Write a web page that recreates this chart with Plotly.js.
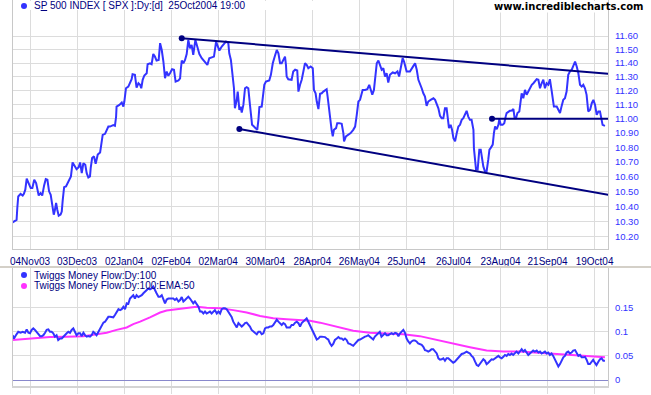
<!DOCTYPE html>
<html>
<head>
<meta charset="utf-8">
<script src="https://cdn.plot.ly/plotly-3.0.1.min.js"></script>
<style>html,body{margin:0;padding:0;background:#fff;}#chart{width:651px;height:395px;}</style>
</head>
<body>
<div id="chart"></div>
<script>
// ---- data (x = trading days counted from 04Nov03) ----
const tickDays = [0, 20, 40, 60, 80, 100, 120, 140, 160, 180, 200, 220, 240];
const tickLabels = ['04Nov03','03Dec03','02Jan04','02Feb04','02Mar04','30Mar04','28Apr04','26May04','25Jun04','26Jul04','23Aug04','21Sep04','19Oct04'];
const priceTicks = [10.2,10.3,10.4,10.5,10.6,10.7,10.8,10.9,11.0,11.1,11.2,11.3,11.4,11.5,11.6];
const flowTicks = [0, 0.05, 0.1, 0.15];

const spxPoints = [
[-7.4,10.294],[-5.7,10.311],[-5.4,10.389],[-5.0,10.466],[-4.0,10.484],[-3.1,10.473],[-2.6,10.484],[-2.0,10.512],[-1.4,10.586],[-0.6,10.557],
[0.3,10.523],[1.0,10.523],[1.8,10.579],[2.6,10.557],[3.3,10.512],[3.7,10.473],[4.5,10.489],[5.2,10.473],[6.0,10.541],[6.7,10.583],
[7.4,10.579],[8.1,10.501],[8.8,10.478],[9.2,10.445],[9.6,10.401],[10.1,10.345],[10.6,10.378],[11.1,10.423],[11.6,10.378],[12.2,10.338],
[13.0,10.345],[13.5,10.366],[13.9,10.440],[14.5,10.529],[15.3,10.534],[16.0,10.557],[16.7,10.586],[17.4,10.602],[18.1,10.697],[19.0,10.670],
[19.8,10.651],[20.7,10.665],[21.3,10.697],[22.0,10.624],[22.7,10.692],[23.5,10.681],[24.1,10.624],[24.8,10.595],[25.5,10.602],[25.8,10.658],
[26.4,10.727],[27.2,10.739],[27.9,10.688],[28.3,10.716],[28.8,10.751],[29.8,10.766],[30.5,10.831],[30.9,10.888],[31.9,10.895],[32.6,10.923],
[33.3,10.946],[34.0,10.946],[35.4,10.956],[36.1,10.951],[36.6,11.016],[36.8,11.087],[38.0,11.099],[39.0,11.116],[39.7,11.087],[40.1,11.123],
[40.8,11.218],[41.8,11.230],[42.5,11.254],[43.2,11.283],[43.6,11.319],[44.6,11.315],[45.3,11.223],[46.1,11.254],[46.8,11.243],[47.3,11.218],
[47.9,11.279],[48.6,11.310],[49.6,11.326],[50.0,11.392],[51.0,11.399],[51.7,11.392],[52.4,11.467],[53.1,11.448],[53.8,11.419],[54.7,11.423],
[55.3,11.547],[56.0,11.496],[56.7,11.412],[57.4,11.290],[58.1,11.339],[58.8,11.308],[59.5,11.326],[60.4,11.356],[61.2,11.352],[61.9,11.266],
[63.1,11.274],[63.8,11.290],[64.1,11.352],[64.5,11.419],[65.2,11.399],[65.9,11.423],[66.6,11.467],[67.3,11.571],[68.0,11.509],[68.7,11.534],
[69.4,11.460],[70.3,11.571],[71.1,11.522],[72.0,11.467],[73.0,11.436],[74.4,11.405],[75.4,11.387],[76.2,11.436],[77.2,11.443],[78.2,11.448],
[78.6,11.496],[79.1,11.559],[79.6,11.534],[80.5,11.492],[81.5,11.522],[82.5,11.542],[83.3,11.559],[84.3,11.547],[84.7,11.472],[85.4,11.423],
[86.2,11.303],[86.7,11.218],[87.1,11.075],[87.9,11.135],[88.3,11.194],[89.0,11.064],[89.6,11.087],[90.0,11.045],[90.7,11.099],[91.4,11.218],
[92.1,11.225],[92.8,11.218],[93.5,11.099],[93.9,11.028],[94.4,10.958],[95.2,10.946],[96.1,10.935],[96.6,10.923],[97.1,10.993],[97.5,11.083],
[98.5,11.087],[99.2,11.171],[99.6,11.243],[100.3,11.266],[101.7,11.274],[102.4,11.315],[103.2,11.399],[104.1,11.452],[104.9,11.496],[105.6,11.472],
[106.3,11.399],[107.0,11.399],[107.7,11.423],[108.4,11.448],[108.8,11.387],[109.1,11.303],[109.8,11.283],[111.2,11.279],[111.9,11.339],[112.7,11.352],
[113.6,11.346],[114.1,11.194],[114.8,11.243],[115.5,11.279],[116.2,11.339],[116.9,11.399],[117.6,11.387],[118.3,11.363],[119.3,11.376],[120.2,11.363],
[120.7,11.206],[121.4,11.182],[121.9,11.123],[122.6,11.069],[123.3,11.178],[124.0,11.182],[124.7,11.194],[126.1,11.211],[126.5,11.159],[127.1,11.064],
[127.5,10.993],[128.2,10.923],[128.7,10.877],[129.2,10.923],[130.1,10.935],[130.6,10.970],[131.5,10.970],[132.5,10.965],[133.2,10.900],[133.5,10.843],
[134.3,10.877],[135.3,10.888],[136.3,10.900],[137.4,10.923],[138.2,10.946],[138.9,11.028],[139.6,11.123],[140.3,11.135],[141.4,11.206],[142.4,11.206],
[143.4,11.211],[144.2,11.243],[145.0,11.206],[145.5,11.171],[146.2,11.206],[146.8,11.290],[147.4,11.399],[148.1,11.419],[148.8,11.376],[149.5,11.352],
[150.2,11.363],[150.9,11.303],[151.6,11.326],[152.3,11.259],[153.0,11.315],[154.2,11.332],[155.2,11.326],[156.2,11.339],[156.9,11.303],[157.6,11.363],
[158.4,11.436],[159.0,11.412],[160.1,11.339],[161.5,11.339],[162.2,11.363],[163.0,11.380],[163.7,11.399],[164.4,11.352],[165.1,11.279],[165.8,11.254],
[166.5,11.218],[167.2,11.182],[167.9,11.159],[168.6,11.092],[169.3,11.123],[170.3,11.135],[171.5,11.146],[172.2,11.135],[172.9,11.111],[173.6,11.075],
[174.3,11.021],[175.0,11.005],[175.7,11.005],[176.4,11.075],[177.1,11.075],[177.5,11.005],[178.1,10.935],[178.8,10.958],[179.4,10.923],[180.0,10.865],
[180.7,10.843],[181.4,10.900],[182.1,10.946],[182.8,10.958],[183.5,10.993],[184.2,11.005],[184.9,11.028],[185.6,11.057],[186.3,11.016],[187.0,10.993],
[187.7,10.993],[188.5,10.923],[188.7,10.796],[189.2,10.727],[189.6,10.648],[190.3,10.648],[190.7,10.727],[191.0,10.785],[191.6,10.785],[192.0,10.739],
[192.7,10.670],[193.4,10.636],[194.1,10.636],[194.8,10.716],[195.3,10.785],[195.8,10.796],[196.7,10.820],[197.2,10.900],[197.7,10.946],[198.4,10.928],
[199.1,10.958],[199.5,10.998],[200.1,10.958],[200.9,10.958],[201.6,10.970],[202.2,11.016],[202.6,11.041],[204.0,11.057],[204.8,11.059],[205.5,11.069],
[206.0,11.005],[206.6,11.005],[207.2,11.041],[208.0,11.052],[208.3,11.099],[209.0,11.182],[209.7,11.146],[210.4,11.206],[211.1,11.171],[211.8,11.194],
[212.5,11.206],[213.3,11.243],[214.0,11.254],[214.7,11.266],[215.4,11.283],[216.1,11.279],[216.8,11.218],[217.5,11.254],[218.2,11.279],[218.9,11.218],
[219.6,11.254],[220.3,11.243],[221.0,11.283],[221.8,11.194],[222.2,11.123],[222.7,11.087],[223.9,11.087],[224.6,11.064],[225.3,11.041],[226.0,11.092],
[226.7,11.135],[227.4,11.146],[228.1,11.194],[228.8,11.315],[229.5,11.339],[230.3,11.352],[231.0,11.376],[231.7,11.412],[232.4,11.376],[233.1,11.326],
[233.8,11.243],[234.5,11.230],[235.2,11.243],[235.9,11.218],[236.6,11.171],[237.3,11.052],[238.1,11.064],[238.8,11.111],[239.5,11.135],[240.2,11.099],
[240.9,11.028],[241.6,11.052],[242.3,11.052],[243.0,11.005],[243.4,10.958],[244.4,10.951]
];

// trend lines drawn on the price chart: [day, level]
const upperTrend = [[64.5,11.584],[246.8,11.321]];
const lowerTrend = [[89.0,10.929],[245.9,10.477]];
const supportLine = [[196.4,11.00],[246.8,11.00]];

const tmfPoints = [
[-7.4,0.093],[-6.8,0.086],[-6.0,0.093],[-5.0,0.100],[-4.0,0.098],[-3.1,0.100],[-2.1,0.098],[-1.4,0.105],[-0.7,0.098],[0.0,0.097],
[0.7,0.104],[1.4,0.107],[2.1,0.104],[2.8,0.100],[3.5,0.097],[4.3,0.091],[5.0,0.091],[5.7,0.093],[6.4,0.098],[7.1,0.104],
[7.8,0.105],[8.5,0.100],[9.2,0.100],[9.9,0.097],[10.6,0.090],[11.3,0.093],[12.0,0.083],[12.8,0.086],[13.5,0.086],[14.2,0.090],
[14.9,0.095],[15.6,0.097],[16.3,0.100],[17.0,0.098],[17.7,0.104],[18.4,0.107],[19.1,0.100],[19.8,0.093],[20.6,0.097],[21.3,0.097],
[22.0,0.091],[22.7,0.098],[23.4,0.093],[24.1,0.090],[24.8,0.091],[25.5,0.090],[26.2,0.093],[26.9,0.100],[27.6,0.097],[28.3,0.093],
[29.1,0.100],[29.8,0.107],[30.5,0.114],[31.2,0.119],[31.9,0.121],[32.6,0.125],[33.3,0.131],[34.0,0.131],[34.7,0.131],[35.4,0.130],
[36.1,0.135],[36.8,0.140],[37.6,0.147],[38.3,0.145],[39.0,0.147],[39.7,0.152],[40.4,0.147],[41.1,0.159],[41.8,0.158],[42.5,0.169],
[43.2,0.173],[43.9,0.176],[44.6,0.169],[45.3,0.176],[46.1,0.172],[46.8,0.174],[47.5,0.176],[48.2,0.180],[48.9,0.183],[49.6,0.185],
[50.3,0.190],[51.0,0.188],[51.7,0.190],[52.4,0.194],[53.1,0.185],[53.8,0.180],[54.6,0.173],[55.3,0.173],[56.0,0.176],[56.7,0.166],
[57.4,0.159],[58.1,0.167],[58.8,0.169],[59.5,0.169],[60.9,0.169],[61.6,0.166],[62.3,0.169],[63.1,0.163],[63.8,0.166],[64.5,0.172],
[65.2,0.163],[65.9,0.166],[66.6,0.169],[67.3,0.173],[68.0,0.169],[68.7,0.163],[69.4,0.159],[70.1,0.163],[70.9,0.156],[71.6,0.152],
[72.3,0.142],[73.0,0.142],[73.7,0.138],[74.4,0.142],[75.1,0.138],[75.8,0.140],[76.5,0.142],[77.2,0.138],[77.9,0.142],[78.6,0.145],
[79.4,0.138],[80.1,0.142],[80.8,0.138],[81.5,0.147],[82.2,0.149],[82.9,0.149],[83.6,0.147],[84.3,0.142],[85.0,0.135],[85.7,0.131],
[86.4,0.121],[87.1,0.114],[87.9,0.109],[88.6,0.118],[89.3,0.114],[90.0,0.111],[90.7,0.114],[91.4,0.118],[92.1,0.119],[92.8,0.116],
[93.5,0.111],[94.2,0.104],[94.9,0.100],[95.6,0.098],[96.4,0.095],[97.1,0.100],[97.8,0.100],[98.5,0.095],[99.2,0.097],[99.9,0.107],
[100.6,0.109],[101.3,0.109],[102.0,0.111],[102.7,0.111],[103.4,0.114],[104.1,0.119],[104.9,0.125],[105.6,0.121],[106.3,0.118],[107.0,0.114],
[107.7,0.118],[108.4,0.116],[109.1,0.109],[109.8,0.109],[110.5,0.109],[111.2,0.114],[111.9,0.114],[112.7,0.119],[113.4,0.121],[114.1,0.118],
[114.8,0.111],[115.5,0.118],[116.2,0.121],[116.9,0.126],[117.6,0.128],[118.3,0.121],[119.0,0.114],[119.7,0.105],[120.4,0.100],[121.2,0.090],
[121.9,0.084],[122.6,0.086],[123.3,0.090],[124.0,0.090],[124.7,0.089],[125.4,0.089],[126.1,0.086],[126.8,0.084],[127.5,0.076],[128.2,0.071],
[128.9,0.075],[129.6,0.083],[130.4,0.086],[131.1,0.089],[131.8,0.086],[132.5,0.086],[133.2,0.083],[133.9,0.086],[134.6,0.083],[135.3,0.076],
[136.0,0.075],[136.7,0.073],[137.4,0.071],[138.1,0.075],[138.8,0.080],[139.6,0.083],[140.3,0.084],[141.0,0.086],[141.7,0.089],[142.4,0.090],
[143.1,0.091],[143.8,0.093],[144.5,0.090],[145.2,0.086],[145.9,0.084],[146.6,0.090],[147.3,0.093],[148.0,0.097],[148.7,0.100],[149.4,0.090],
[150.2,0.093],[150.9,0.097],[151.6,0.093],[152.3,0.093],[153.0,0.095],[153.7,0.097],[154.4,0.095],[155.2,0.098],[155.9,0.097],[156.6,0.091],
[157.3,0.097],[158.0,0.100],[158.7,0.104],[159.4,0.098],[160.1,0.086],[160.8,0.080],[161.5,0.076],[162.2,0.080],[162.9,0.082],[163.6,0.082],
[164.3,0.080],[165.0,0.076],[165.7,0.075],[166.5,0.073],[167.2,0.069],[167.9,0.062],[168.6,0.061],[169.3,0.059],[170.0,0.061],[170.7,0.064],
[171.4,0.064],[172.1,0.059],[172.9,0.055],[173.6,0.045],[174.3,0.042],[175.0,0.043],[175.7,0.045],[176.4,0.040],[177.1,0.045],[177.8,0.045],
[178.5,0.042],[179.2,0.038],[179.9,0.036],[180.6,0.038],[181.4,0.043],[182.1,0.047],[182.8,0.050],[183.5,0.054],[184.2,0.055],[184.9,0.057],
[185.6,0.059],[186.3,0.057],[187.0,0.055],[187.7,0.050],[188.4,0.047],[189.2,0.038],[189.9,0.031],[190.6,0.029],[191.3,0.033],[192.0,0.038],
[192.7,0.043],[193.4,0.040],[194.1,0.033],[194.8,0.036],[195.5,0.040],[196.2,0.043],[196.9,0.042],[197.6,0.045],[198.3,0.047],[199.1,0.050],
[199.8,0.047],[200.5,0.045],[201.2,0.048],[201.9,0.052],[202.6,0.050],[203.3,0.054],[204.0,0.052],[204.7,0.055],[205.4,0.052],[206.1,0.055],
[206.8,0.059],[207.6,0.055],[208.3,0.059],[209.0,0.064],[209.7,0.059],[210.4,0.062],[211.1,0.057],[211.8,0.052],[212.5,0.055],[213.2,0.059],
[213.9,0.061],[214.6,0.059],[215.4,0.061],[216.1,0.057],[216.8,0.059],[217.5,0.055],[218.2,0.057],[218.9,0.059],[219.6,0.055],[220.3,0.057],
[221.0,0.052],[221.7,0.055],[222.4,0.050],[223.2,0.042],[223.9,0.035],[224.6,0.028],[225.3,0.033],[226.0,0.042],[226.7,0.047],[227.4,0.050],
[228.1,0.057],[228.8,0.059],[229.5,0.055],[230.2,0.057],[230.9,0.061],[231.7,0.062],[232.4,0.055],[233.1,0.050],[233.8,0.052],[234.5,0.047],
[235.2,0.047],[235.9,0.048],[236.6,0.042],[237.3,0.033],[238.0,0.033],[238.7,0.038],[239.4,0.042],[240.1,0.036],[240.8,0.031],[241.6,0.038],
[242.3,0.043],[243.0,0.045],[243.7,0.040],[244.4,0.040]
];

const emaPoints = [
[-7.4,0.083],[0.0,0.086],[8.5,0.089],[15.6,0.090],[22.7,0.091],[28.3,0.095],[32.6,0.098],[36.8,0.104],[41.1,0.109],[43.9,0.116],
[46.8,0.121],[51.0,0.130],[55.3,0.140],[58.1,0.144],[62.3,0.147],[66.6,0.150],[70.8,0.152],[75.1,0.150],[80.8,0.149],[86.4,0.145],
[92.1,0.140],[97.8,0.133],[103.4,0.128],[109.1,0.126],[114.8,0.125],[119.0,0.123],[123.3,0.119],[127.5,0.114],[130.4,0.111],[137.4,0.102],
[144.5,0.098],[151.6,0.097],[158.7,0.095],[165.7,0.091],[172.9,0.083],[179.9,0.075],[187.0,0.068],[194.1,0.061],[201.2,0.059],[208.3,0.059],
[215.4,0.057],[222.4,0.054],[229.5,0.052],[236.6,0.050],[244.4,0.047]
];

// ---- drawing ----
const W = 651, H = 395;
const px = x => x / W;
const py = y => 1 - y / H;
const xs = a => a.map(p => p[0]);
const ys = a => a.map(p => p[1]);

const BLUE = '#3333ff', NAVY = '#000080', MAGENTA = '#ff33ff', GRID = '#dcdcdc';
const FONT = 'Liberation Sans, Arial, sans-serif';
const xRange = [-7.44, 245.7];

function trend(points) {
  return {x: xs(points), y: ys(points), xaxis: 'x', yaxis: 'y', type: 'scatter', mode: 'lines+markers',
    line: {color: NAVY, width: 2}, marker: {color: NAVY, size: 6}, cliponaxis: false, hoverinfo: 'skip'};
}

const traces = [
  {x: xs(spxPoints), y: ys(spxPoints), xaxis: 'x', yaxis: 'y', type: 'scatter', mode: 'lines',
   line: {color: BLUE, width: 2}},
  trend(upperTrend), trend(lowerTrend), trend(supportLine),
  {x: xs(emaPoints), y: ys(emaPoints), xaxis: 'x2', yaxis: 'y2', type: 'scatter', mode: 'lines',
   line: {color: MAGENTA, width: 2}},
  {x: xs(tmfPoints), y: ys(tmfPoints), xaxis: 'x2', yaxis: 'y2', type: 'scatter', mode: 'lines',
   line: {color: BLUE, width: 2}}
];

const xDomain = [px(12.5), px(608)];
const layout = {
  width: W, height: H, margin: {l: 0, r: 0, t: 0, b: 0},
  paper_bgcolor: '#ffffff', plot_bgcolor: '#ffffff', showlegend: false,
  font: {family: FONT, size: 10, color: NAVY},
  xaxis: {domain: xDomain, range: xRange, anchor: 'y', tickvals: tickDays, ticktext: tickLabels,
    showgrid: true, gridcolor: GRID, gridwidth: 1, zeroline: false, ticks: '',
    showline: true, linecolor: '#c8c8c8', linewidth: 1, mirror: true,
    tickfont: {family: FONT, size: 10, color: NAVY}, ticklabelstandoff: 3},
  yaxis: {domain: [py(249), py(0)], type: 'log', range: [1.005176, 1.074478], anchor: 'x', side: 'right',
    tickvals: priceTicks, ticktext: priceTicks.map(v => v.toFixed(2)),
    showgrid: true, gridcolor: GRID, gridwidth: 1, zeroline: false, ticks: '',
    showline: true, linecolor: '#c8c8c8', linewidth: 1, mirror: true,
    tickfont: {family: FONT, size: 9.5, color: BLUE}, ticklabelstandoff: 4},
  xaxis2: {domain: xDomain, range: xRange, anchor: 'y2', tickvals: tickDays, showticklabels: false,
    showgrid: true, gridcolor: GRID, gridwidth: 1, zeroline: false,
    ticks: 'outside', ticklen: 6, tickcolor: GRID, tickwidth: 1,
    showline: true, linecolor: '#d4d4d4', linewidth: 2},
  yaxis2: {domain: [py(386), py(268)], range: [-0.01245, 0.2324], anchor: 'x2', side: 'right',
    tickvals: flowTicks, ticktext: flowTicks.map(String),
    showgrid: true, gridcolor: GRID, gridwidth: 1,
    zeroline: true, zerolinecolor: '#8888cc', zerolinewidth: 1, ticks: '',
    showline: true, linecolor: '#c8c8c8', linewidth: 1, mirror: true,
    tickfont: {family: FONT, size: 9.5, color: BLUE}, ticklabelstandoff: 4},
  shapes: [
    {type: 'rect', xref: 'paper', yref: 'paper', x0: px(13), x1: px(335), y0: py(10), y1: py(1),
     fillcolor: '#ffffff', line: {width: 0}, layer: 'above'},
    {type: 'rect', xref: 'paper', yref: 'paper', x0: px(495), x1: px(607.5), y0: py(12.5), y1: py(1),
     fillcolor: '#ffffff', line: {width: 0}, layer: 'above'},
    {type: 'line', xref: 'paper', yref: 'paper', x0: 0, x1: 1, y0: py(267), y1: py(267),
     line: {color: '#d4d0c8', width: 2}, layer: 'above'},
    {type: 'circle', xref: 'paper', yref: 'paper', x0: px(21), x1: px(27), y0: py(9), y1: py(3),
     fillcolor: BLUE, line: {width: 0}, layer: 'above'},
    {type: 'circle', xref: 'paper', yref: 'paper', x0: px(21), x1: px(27), y0: py(278), y1: py(272),
     fillcolor: BLUE, line: {width: 0}, layer: 'above'},
    {type: 'circle', xref: 'paper', yref: 'paper', x0: px(21), x1: px(27), y0: py(289), y1: py(283),
     fillcolor: MAGENTA, line: {width: 0}, layer: 'above'}
  ],
  annotations: [
    {xref: 'paper', yref: 'paper', x: px(32), y: py(6), xanchor: 'left', yanchor: 'middle', showarrow: false,
     text: 'S<u>P</u> 500 INDEX [ SPX ]:Dy:[d]  25Oct2004 19:00', font: {family: FONT, size: 10, color: NAVY}},
    {xref: 'paper', yref: 'paper', x: px(646), y: py(7), xanchor: 'right', yanchor: 'middle', showarrow: false,
     text: '<b>www.incrediblecharts.com</b>', font: {family: 'DejaVu Sans, Verdana, sans-serif', size: 10, color: '#000000'}},
    {xref: 'paper', yref: 'paper', x: px(32), y: py(275), xanchor: 'left', yanchor: 'middle', showarrow: false,
     text: 'Twiggs Money Flow:Dy:100', font: {family: FONT, size: 10, color: NAVY}},
    {xref: 'paper', yref: 'paper', x: px(32), y: py(285.7), xanchor: 'left', yanchor: 'middle', showarrow: false,
     text: 'Twiggs Money Flow:Dy:100:EMA:50', font: {family: FONT, size: 10, color: NAVY}}
  ]
};

Plotly.newPlot('chart', traces, layout, {staticPlot: true, displayModeBar: false});
</script>
</body>
</html>
